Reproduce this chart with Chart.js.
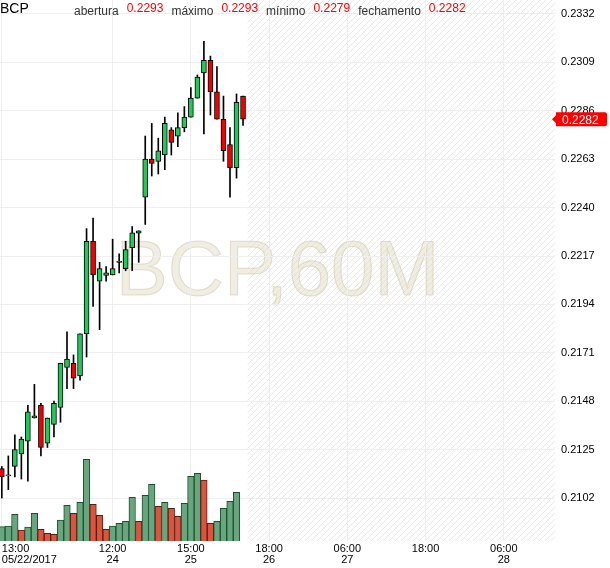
<!DOCTYPE html>
<html>
<head>
<meta charset="utf-8">
<script src="https://cdn.jsdelivr.net/npm/chart.js@4.4.1/dist/chart.umd.min.js"></script>
<style>
    html, body { margin: 0; padding: 0; background: #fff; }
    #wrap { width: 610px; height: 568px; }
</style>
</head>
<body>
<div id="wrap"><canvas id="chart" width="610" height="568"></canvas></div>
<script>
var symbol = 'BCP';
var period = '60M';

// hourly candles, one per slot
var opens  = [0.2116, 0.21125, 0.2117, 0.2123, 0.2129, 0.2140, 0.2146, 0.2128, 0.2137, 0.2145, 0.2164, 0.2166, 0.2160, 0.2180, 0.2224, 0.2205, 0.22078, 0.2208, 0.2214, 0.2211, 0.2221, 0.22278, 0.2245, 0.2263, 0.2262, 0.2265, 0.2277, 0.2274, 0.2278, 0.2283, 0.2292, 0.2304, 0.2310, 0.2295, 0.2282, 0.2270, 0.2259, 0.2293];
var highs  = [0.2117, 0.2122, 0.2132, 0.2131, 0.2146, 0.2156, 0.2147, 0.2140, 0.2148, 0.2166, 0.2181, 0.2170, 0.2180, 0.2230, 0.2235, 0.2214, 0.2212, 0.2225, 0.2218, 0.2224, 0.2231, 0.2229, 0.2274, 0.2280, 0.2273, 0.2283, 0.2278, 0.2285, 0.2288, 0.2297, 0.2303, 0.2319, 0.2312, 0.2307, 0.2293, 0.2278, 0.2294, 0.2293];
var lows   = [0.2102, 0.2106, 0.2112, 0.2111, 0.2110, 0.2140, 0.2122, 0.2126, 0.2131, 0.2138, 0.2154, 0.2154, 0.2158, 0.2169, 0.2193, 0.2182, 0.2205, 0.2208, 0.2209, 0.2210, 0.2210, 0.2214, 0.2232, 0.2255, 0.2256, 0.2258, 0.2265, 0.2269, 0.2276, 0.2283, 0.2292, 0.2275, 0.2284, 0.2282, 0.2262, 0.2245, 0.2254, 0.2279];
var closes = [0.2112, 0.2113, 0.2125, 0.2130, 0.2143, 0.2141, 0.2126, 0.2140, 0.2147, 0.2166, 0.2168, 0.2159, 0.2180, 0.2224, 0.2208, 0.2211, 0.2209, 0.2211, 0.22145, 0.2220, 0.2228, 0.2229, 0.2263, 0.2261, 0.2267, 0.2280, 0.2271, 0.2278, 0.2283, 0.2292, 0.2302, 0.2310, 0.2295, 0.2282, 0.2267, 0.2259, 0.2290, 0.2282];
var volumes = [143000, 150000, 267000, 110000, 140000, 277000, 117000, 77000, 67000, 210000, 357000, 277000, 387000, 817000, 367000, 257000, 117000, 150000, 177000, 197000, 437000, 197000, 457000, 567000, 347000, 387000, 327000, 247000, 377000, 647000, 677000, 610000, 177000, 197000, 327000, 397000, 487000, 0];

var priceTicks = [0.2102, 0.2125, 0.2148, 0.2171, 0.2194, 0.2217, 0.2240, 0.2263, 0.2286, 0.2309, 0.2332];
var timeTicks = [0, 17, 29, 41, 53, 65, 77];
var timeLabels = [['13:00', '05/22/2017'], ['12:00', '24'], ['15:00', '25'], ['18:00', '26'], ['06:00', '27'], ['18:00'], ['06:00', '28']];

var quoteNames = ['abertura', 'máximo', 'mínimo', 'fechamento'];
var quoteValues = [0.2293, 0.2293, 0.2279, 0.2282];
var lastPrice = 0.2282;

var FONT = "'Liberation Sans', Arial, sans-serif";
var slotMin = -0.276, slotMax = 84.85;
var upColor = '#20c95a', downColor = '#f20000';

Chart.defaults.font.family = FONT;

var bodies = opens.map(function (o, i) { return {x: i, y: [o, closes[i]]}; });
var wicks = lows.map(function (l, i) { return {x: i, y: [l, highs[i]]}; });
var vols = volumes.map(function (v, i) { return {x: i, y: v}; });

var volUp = volumes.map(function (v, i) { return i === 0 || v >= volumes[i - 1]; });

var hatchPlugin = {
    id: 'hatch',
    beforeDraw: function (chart) {
        var ctx = chart.ctx, area = chart.chartArea;
        ctx.save();
        ctx.fillStyle = '#fff';
        ctx.fillRect(0, 0, chart.width, chart.height);

        // future zone
        var tile = document.createElement('canvas');
        tile.width = 6; tile.height = 6;
        var t = tile.getContext('2d');
        t.strokeStyle = '#e9e9e9';
        t.lineWidth = 1;
        t.beginPath();
        t.moveTo(-1, 7); t.lineTo(7, -1);
        t.moveTo(-1, 1); t.lineTo(1, -1);
        t.moveTo(5, 7); t.lineTo(7, 5);
        t.stroke();
        var x0 = chart.scales.x.getPixelForValue(closes.length - 0.3);
        ctx.fillStyle = ctx.createPattern(tile, 'repeat');
        ctx.fillRect(x0, area.top, area.right - x0, area.bottom - area.top);

        // watermark
        ctx.font = '78px ' + FONT;
        ctx.textAlign = 'center';
        ctx.textBaseline = 'alphabetic';
        ctx.fillStyle = 'rgba(222,214,190,0.45)';
        ctx.strokeStyle = 'rgba(200,188,150,0.45)';
        ctx.lineWidth = 1;
        var cx = (area.left + area.right) / 2;
        ctx.fillText(symbol + ',' + period, cx, 295);
        ctx.strokeText(symbol + ',' + period, cx, 295);
        ctx.restore();
    },
    afterDraw: function (chart) {
        var ctx = chart.ctx;
        ctx.save();
        ctx.textBaseline = 'alphabetic';
        ctx.textAlign = 'left';
        ctx.font = '14px ' + FONT;
        ctx.fillStyle = '#000';
        ctx.fillText(symbol, 0, 13);

        var x = 74;
        ctx.font = '12px ' + FONT;
        quoteNames.forEach(function (name, i) {
            ctx.fillStyle = '#333';
            ctx.fillText(name, x, 15);
            x += ctx.measureText(name).width + 8;
            var val = quoteValues[i].toFixed(4);
            ctx.fillStyle = '#ff0000';
            ctx.fillText(val, x, 12);
            x += ctx.measureText(val).width + 8;
        });

        // last price tag
        var y = chart.scales.y.getPixelForValue(lastPrice);
        var left = chart.chartArea.right + 1;
        ctx.fillStyle = '#ff0000';
        ctx.beginPath();
        ctx.moveTo(left - 4, y);
        ctx.lineTo(left, y - 4);
        ctx.lineTo(left, y - 7);
        ctx.lineTo(left + 49, y - 7);
        ctx.quadraticCurveTo(left + 51, y - 7, left + 51, y - 5);
        ctx.lineTo(left + 51, y + 5);
        ctx.quadraticCurveTo(left + 51, y + 7, left + 49, y + 7);
        ctx.lineTo(left, y + 7);
        ctx.lineTo(left, y + 4);
        ctx.closePath();
        ctx.fill();
        ctx.fillStyle = '#fff';
        ctx.font = '12px ' + FONT;
        ctx.textBaseline = 'middle';
        ctx.fillText(lastPrice.toFixed(4), left + 6, y + 1);
        ctx.restore();
    }
};

new Chart(document.getElementById('chart').getContext('2d'), {
    type: 'bar',
    data: {
        datasets: [
            {
                data: bodies,
                yAxisID: 'y',
                grouped: false,
                barThickness: 5,
                borderWidth: 1,
                borderSkipped: false,
                borderColor: '#000',
                backgroundColor: bodies.map(function (b) { return b.y[1] >= b.y[0] ? upColor : downColor; })
            },
            {
                data: wicks,
                yAxisID: 'y',
                grouped: false,
                barThickness: 1,
                borderWidth: 0,
                backgroundColor: '#000'
            },
            {
                data: vols,
                yAxisID: 'yv',
                grouped: false,
                barPercentage: 1,
                categoryPercentage: 1,
                borderWidth: 1,
                borderSkipped: 'start',
                backgroundColor: volUp.map(function (u) { return u ? '#68a67e' : '#d9553f'; }),
                borderColor: volUp.map(function (u) { return u ? '#1d4f2e' : '#5e1a10'; })
            }
        ]
    },
    options: {
        responsive: false,
        animation: false,
        devicePixelRatio: 1,
        layout: {padding: 0},
        plugins: {legend: {display: false}, tooltip: {enabled: false}},
        scales: {
            x: {
                type: 'linear',
                offset: false,
                min: slotMin,
                max: slotMax,
                afterBuildTicks: function (scale) {
                    scale.ticks = timeTicks.concat([slotMax]).map(function (v) { return {value: v}; });
                },
                afterFit: function (scale) {
                    scale.height = 27;
                    scale.paddingLeft = 0;
                    scale.paddingRight = 0;
                },
                ticks: {
                    autoSkip: false,
                    maxRotation: 0,
                    align: 'inner',
                    padding: 2,
                    color: '#000',
                    font: {size: 11, lineHeight: 1.0},
                    callback: function (value) {
                        var k = timeTicks.indexOf(value);
                        return k < 0 ? '' : timeLabels[k];
                    }
                },
                grid: {
                    offset: false,
                    drawTicks: false,
                    color: function (ctx) {
                        return ctx.tick && timeTicks.indexOf(ctx.tick.value) >= 0 ? '#efefef' : 'rgba(0,0,0,0)';
                    }
                },
                border: {display: false}
            },
            y: {
                type: 'linear',
                position: 'right',
                min: 0.208157,
                max: 0.233865,
                afterBuildTicks: function (scale) {
                    scale.ticks = priceTicks.map(function (v) { return {value: v}; });
                },
                afterFit: function (scale) {
                    scale.width = 55;
                    scale.paddingTop = 0;
                    scale.paddingBottom = 0;
                },
                ticks: {
                    padding: 6,
                    color: '#000',
                    font: {size: 11},
                    callback: function (value) { return value.toFixed(4); }
                },
                grid: {drawTicks: false, color: '#efefef'},
                border: {display: false}
            },
            yv: {
                type: 'linear',
                display: false,
                min: 0,
                max: 5410000
            }
        }
    },
    plugins: [hatchPlugin]
});
</script>
</body>
</html>
